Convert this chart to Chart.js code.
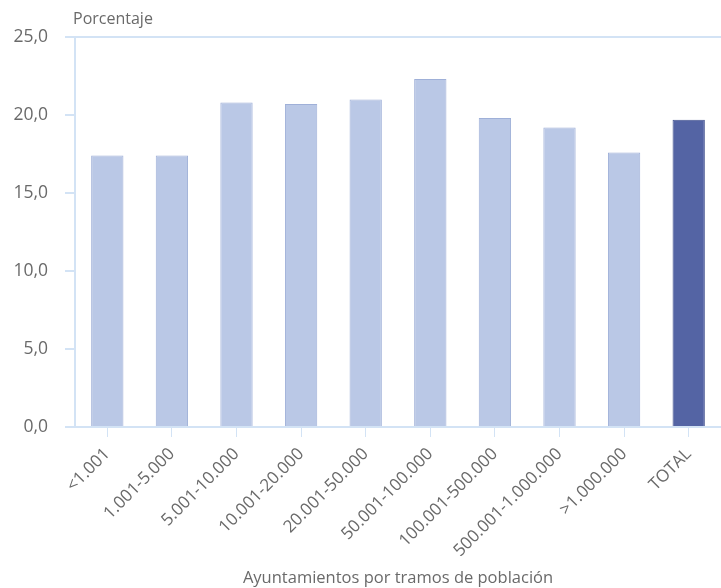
<!DOCTYPE html>
<html>
<head>
<meta charset="utf-8">
<script src="https://cdn.jsdelivr.net/npm/chart.js@4"></script>
<style>
  html, body { margin: 0; padding: 0; background: #fff; }
  #wrap { width: 721px; height: 588px; }
</style>
</head>
<body>
<div id="wrap"><canvas id="myChart"></canvas></div>
<script>
// tramos de población y porcentaje
const tramos = ["<1.001", "1.001-5.000", "5.001-10.000", "10.001-20.000", "20.001-50.000",
  "50.001-100.000", "100.001-500.000", "500.001-1.000.000", ">1.000.000", "TOTAL"];
const porcentaje = [17.4, 17.4, 20.8, 20.7, 21.0, 22.3, 19.8, 19.2, 17.6, 19.7];
const yTicks = [0, 5, 10, 15, 20, 25];

const fillColors = tramos.map(t => t === "TOTAL" ? "#5464a4" : "#bac8e6");
const borderColors = tramos.map(t => t === "TOTAL" ? "#42528f" : "#9fb0d8");
const axisColor = "#d3e3f5";
const textColor = "#6a6a6a";
const fontFamily = "'Open Sans', sans-serif";

// "Porcentaje" sobre el eje
const topLabel = {
  id: "topLabel",
  afterDraw(chart) {
    const c = chart.ctx;
    c.save();
    c.font = "16px " + fontFamily;
    c.fillStyle = textColor;
    c.textBaseline = "alphabetic";
    c.fillText("Porcentaje", chart.chartArea.left - 2, 24);
    c.restore();
  }
};

const ctx = document.getElementById("myChart");
new Chart(ctx, {
  type: "bar",
  data: {
    labels: tramos,
    datasets: [{
      data: porcentaje,
      backgroundColor: fillColors,
      borderColor: borderColors,
      borderWidth: 1,
      categoryPercentage: 1.0,
      barPercentage: 0.5
    }]
  },
  options: {
    responsive: true,
    maintainAspectRatio: false,
    animation: false,
    layout: { padding: { top: 37, right: 0, left: 0, bottom: 0 } },
    plugins: {
      legend: { display: false },
      tooltip: { enabled: false }
    },
    scales: {
      x: {
        afterFit: s => { s.height = 161; },
        border: { color: axisColor, width: 2 },
        grid: { offset: false, drawOnChartArea: false, tickLength: 10, color: axisColor },
        ticks: {
          minRotation: 45, maxRotation: 45, autoSkip: false,
          color: textColor, padding: 7,
          font: { family: fontFamily, size: 17 }
        },
        title: {
          display: true,
          text: "Ayuntamientos por tramos de población",
          color: textColor,
          font: { family: fontFamily, size: 16.5 },
          padding: { top: 0, bottom: 0 }
        }
      },
      y: {
        min: 0, max: 25,
        afterFit: s => { s.width = 75; },
        afterBuildTicks: s => { s.ticks = yTicks.map(v => ({ value: v })); },
        border: { color: axisColor, width: 2 },
        grid: {
          color: c => c.tick && c.tick.value === 25 ? axisColor : "rgba(0,0,0,0)",
          tickColor: axisColor,
          tickLength: 10,
          lineWidth: 2
        },
        ticks: {
          color: textColor,
          padding: 17,
          font: { family: fontFamily, size: 17.5 },
          callback: v => v.toFixed(1).replace(".", ",")
        }
      }
    }
  },
  plugins: [topLabel]
});
</script>
</body>
</html>
